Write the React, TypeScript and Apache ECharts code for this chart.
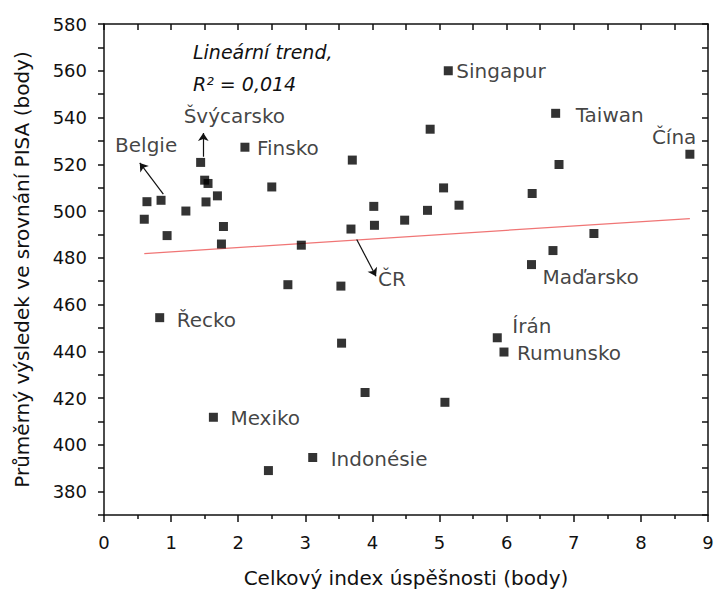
import React, { useEffect, useRef } from "react";
import * as echarts from "echarts";

// Data
const indexValues = [0.6, 0.64, 0.85, 0.94, 1.22, 0.83, 1.44, 1.5, 1.55, 1.52, 1.69, 1.78, 1.75, 1.63, 2.1, 2.45, 2.5, 2.74, 2.94, 3.11, 3.53, 3.54, 3.68, 3.7, 3.89, 4.02, 4.03, 4.48, 4.82, 4.86, 5.06, 5.08, 5.13, 5.29, 5.86, 5.96, 6.37, 6.38, 6.69, 6.73, 6.78, 7.3, 8.73];
const pisaValues = [496.5, 504.0, 504.6, 489.5, 500.0, 454.4, 520.8, 513.2, 511.8, 503.9, 506.5, 493.4, 485.9, 411.8, 527.3, 389.0, 510.3, 468.5, 485.4, 394.6, 467.9, 443.5, 492.3, 521.8, 422.4, 502.0, 493.9, 496.1, 500.3, 535.0, 509.9, 418.2, 560.0, 502.5, 445.8, 439.7, 477.1, 507.5, 483.1, 541.8, 519.9, 490.4, 524.3];
const countryNames = ["", "", "Belgie", "", "", "Řecko", "Švýcarsko", "", "", "", "", "", "", "Mexiko", "Finsko", "", "", "", "", "Indonésie", "", "", "ČR", "", "", "", "", "", "", "", "", "", "Singapur", "", "Írán", "Rumunsko", "Maďarsko", "", "", "Taiwan", "", "", "Čína"];

const trendX = [0.6, 8.73];
const trendY = [481.8, 496.8];

const arrowStartX = [0.884, 1.48, 3.766];
const arrowStartY = [507.2, 523.2, 487.8];
const arrowEndX = [0.533, 1.48, 4.053];
const arrowEndY = [520.6, 533.4, 472.1];

const trendTitle = "Lineární trend,";
const trendR2 = "R² = 0,014";
const xTitle = "Celkový index úspěšnosti (body)";
const yTitle = "Průměrný výsledek ve srovnání PISA (body)";

// Layout of the country labels relative to their points (pixels)
const labelOffsets: Record<string, [number, number]> = {
  Singapur: [8, 0],
  Taiwan: [20, 2],
  "Čína": [-38, -17],
  Finsko: [12, 1],
  "Maďarsko": [11, 12],
  "Řecko": [17, 2],
  Mexiko: [17, 1],
  "Indonésie": [18, 2],
  "Írán": [15, -12],
  Rumunsko: [13, 1],
  Belgie: [-46, -55],
  "Švýcarsko": [-17, -46],
  "ČR": [27, 50],
};

const FONT = "DejaVu Sans";
const TEXT = "#111";

export default function App() {
  const ref = useRef<HTMLDivElement>(null);
  useEffect(() => {
    if (!ref.current) return;
    const chart = echarts.init(ref.current, null, { renderer: "svg" });
    const axisLineStyle = { color: TEXT, width: 1.5 };

    const scatterData = indexValues.map((x, i) => {
      const name = countryNames[i];
      const item: any = { value: [x, pisaValues[i]], name };
      if (name) {
        const off = labelOffsets[name] || [10, 0];
        item.label = {
          show: true,
          formatter: name,
          position: "inside",
          align: "left",
          verticalAlign: "middle",
          offset: off,
          color: TEXT,
          fontSize: 20,
          fontFamily: FONT,
        };
      }
      return item;
    });

    const arrowData = arrowStartX.map((x, i) => ({
      coords: [
        [x, arrowStartY[i]],
        [arrowEndX[i], arrowEndY[i]],
      ],
    }));

    chart.setOption({
      animation: false,
      backgroundColor: "#fff",
      grid: { left: 104, right: 8, top: 24, bottom: 76, containLabel: false, outerBoundsMode: "none" },
      xAxis: [
        {
          type: "value",
          position: "bottom",
          min: 0,
          max: 9,
          interval: 1,
          axisLine: { show: true, onZero: false, lineStyle: axisLineStyle },
          axisTick: { show: true, inside: false, length: 7, lineStyle: axisLineStyle },
          minorTick: { show: true, splitNumber: 2, length: 4, lineStyle: axisLineStyle },
          splitLine: { show: false },
          minorSplitLine: { show: false },
          axisLabel: { color: TEXT, fontSize: 18, fontFamily: FONT, margin: 18 },
          name: xTitle,
          nameLocation: "middle",
          nameGap: 53,
          nameTextStyle: { color: TEXT, fontSize: 20, fontFamily: FONT },
        },
        {
          type: "value",
          position: "top",
          min: 0,
          max: 9,
          interval: 0.5,
          axisLine: { show: true, onZero: false, lineStyle: axisLineStyle },
          axisTick: { show: true, inside: true, length: 6, lineStyle: axisLineStyle },
          splitLine: { show: false },
          axisLabel: { show: false },
        },
      ],
      yAxis: [
        {
          type: "value",
          position: "left",
          min: 370,
          max: 580,
          interval: 10,
          axisLine: { show: true, onZero: false, lineStyle: axisLineStyle },
          axisTick: { show: true, inside: false, length: 6, lineStyle: axisLineStyle },
          splitLine: { show: false },
          axisLabel: {
            color: TEXT,
            fontSize: 18,
            fontFamily: FONT,
            margin: 17,
            formatter: (v: number) => (Math.round(v) % 20 === 0 ? String(Math.round(v)) : ""),
          },
          name: yTitle,
          nameLocation: "middle",
          nameRotate: 90,
          nameGap: 72,
          nameTextStyle: { color: TEXT, fontSize: 20, fontFamily: FONT },
        },
        {
          type: "value",
          position: "right",
          min: 370,
          max: 580,
          interval: 10,
          axisLine: { show: true, onZero: false, lineStyle: axisLineStyle },
          axisTick: { show: true, inside: true, length: 6, lineStyle: axisLineStyle },
          splitLine: { show: false },
          axisLabel: { show: false },
        },
      ],
      graphic: [
        {
          type: "text",
          left: 193,
          top: 42,
          style: { text: trendTitle, fill: TEXT, fontSize: 19, fontStyle: "italic", fontFamily: FONT },
        },
        {
          type: "text",
          left: 193,
          top: 74,
          style: { text: trendR2, fill: TEXT, fontSize: 19, fontStyle: "italic", fontFamily: FONT },
        },
      ],
      series: [
        {
          type: "line",
          xAxisIndex: 0,
          yAxisIndex: 0,
          data: trendX.map((x, i) => [x, trendY[i]]),
          showSymbol: false,
          symbol: "none",
          lineStyle: { color: "#f07575", width: 1.3 },
          silent: true,
          z: 1,
        },
        {
          type: "lines",
          coordinateSystem: "cartesian2d",
          xAxisIndex: 0,
          yAxisIndex: 0,
          data: arrowData,
          symbol: ["none", "arrow"],
          symbolSize: 8,
          lineStyle: { color: TEXT, width: 1.2, opacity: 1, curveness: 0 },
          silent: true,
          z: 2,
        },
        {
          type: "scatter",
          xAxisIndex: 0,
          yAxisIndex: 0,
          symbol: "rect",
          symbolSize: 9,
          itemStyle: { color: "#000" },
          data: scatterData,
          z: 3,
        },
      ],
    });
    return () => chart.dispose();
  }, []);
  return (
    <div
      ref={ref}
      style={{ position: "absolute", left: 0, top: 0, width: 716, height: 591, background: "#fff" }}
    />
  );
}
